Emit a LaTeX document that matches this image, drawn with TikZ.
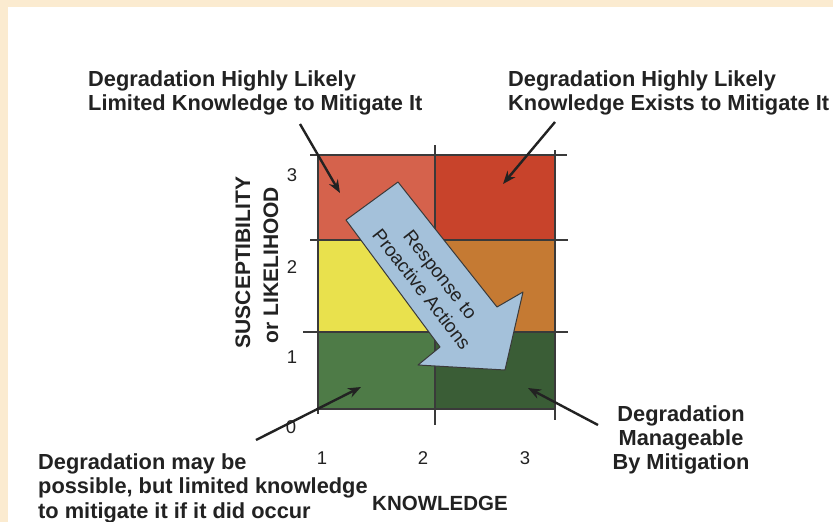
\documentclass[tikz,border=0pt]{standalone}
\usepackage{fontspec}
\setmainfont{Liberation Sans}
\usetikzlibrary{arrows.meta}
\definecolor{beige}{HTML}{FBEBD0}
\definecolor{cTL}{HTML}{D5624C}
\definecolor{cTR}{HTML}{C8432B}
\definecolor{cML}{HTML}{E9E14D}
\definecolor{cMR}{HTML}{C57A33}
\definecolor{cBL}{HTML}{4E7B47}
\definecolor{cBR}{HTML}{3A5D36}
\definecolor{arrfill}{HTML}{A4C1DA}
\definecolor{txt}{HTML}{222222}
\definecolor{gridc}{HTML}{3A3A3A}
\begin{document}
\begin{tikzpicture}[x=1pt,y=-1pt,
  lbl/.style={font=\fontsize{21.8}{23.8}\selectfont\bfseries, text=txt, inner sep=0pt},
  axl/.style={font=\fontsize{21}{21}\selectfont\bfseries, text=txt, inner sep=0pt, rotate=90, anchor=base},
  tck/.style={font=\fontsize{18.5}{18.5}\selectfont, text=txt, inner sep=0pt},
  gridl/.style={draw=gridc, line width=1.1pt},
  ptr/.style={draw=txt, line width=2.4pt, -{Stealth[length=13pt,width=10pt]}},
  bigarrow/.style={fill=arrfill, draw=gridc, line width=1pt, line join=round},
]
\useasboundingbox (0,0) rectangle (833,522);
\fill[beige] (0,0) rectangle (833,522);
\fill[white] (8,7) rectangle (833,522);
% cells
\fill[cTL] (318,155) rectangle (435,240);
\fill[cTR] (435,155) rectangle (555,240);
\fill[cML] (318,240) rectangle (435,332);
\fill[cMR] (435,240) rectangle (555,332);
\fill[cBL] (318,332) rectangle (435,409);
\fill[cBR] (435,332) rectangle (555,409);
% grid lines
\draw[gridl] (310,155) -- (567,155);
\draw[gridl] (310,240) -- (568,240);
\draw[gridl] (303,332) -- (568,332);
\draw[gridl] (317,409) -- (555,409);
\draw[gridl] (318,155) -- (318,414);
\draw[gridl] (435,145) -- (435,425);
\draw[gridl] (555,150) -- (555,420);
% big arrow
\draw[bigarrow] (346,220) -- (398,182) -- (497,307) -- (523,292) -- (505,370) -- (418,365) -- (440,347) -- cycle;
\node[font=\fontsize{19}{23.5}\selectfont, text=txt, inner sep=0pt, rotate=-52, align=center] (resp) at (431,282) {Response to\\Proactive Actions};
% labels
\node[lbl, anchor=north west, align=left] (tl) at (88,71) {Degradation Highly Likely\\Limited Knowledge to Mitigate It};
\node[lbl, anchor=north west, align=left] (tr) at (508,71) {Degradation Highly Likely\\Knowledge Exists to Mitigate It};
\node[lbl, anchor=north west, align=left, font=\fontsize{21.8}{24.5}\selectfont\bfseries] (bl) at (38,453) {Degradation may be\\possible, but limited knowledge\\to mitigate it if it did occur};
\node[lbl, anchor=north, align=center, font=\fontsize{21.8}{24}\selectfont\bfseries] (br) at (681,405) {Degradation\\Manageable\\By Mitigation};
% axes
\node[axl] (ys) at (250,262.5) {SUSCEPTIBILITY};
\node[axl] (yl) at (278,265) {or LIKELIHOOD};
\node[lbl, anchor=base, font=\fontsize{20.5}{20.5}\selectfont\bfseries] (xk) at (440,510) {KNOWLEDGE};
\node[tck] (y3) at (292,175) {3};
\node[tck] (y2) at (292,267) {2};
\node[tck] (y1) at (292,357) {1};
\node[tck] (y0) at (291,427) {0};
\node[tck] (x1) at (322,458) {1};
\node[tck] (x2) at (423,458) {2};
\node[tck] (x3) at (525,458) {3};
% connectors
\coordinate (a1s) at (300,124);
\coordinate (a1e) at (340,193);
\coordinate (a2s) at (555,122);
\coordinate (a2e) at (503,184);
\coordinate (a3s) at (256,440);
\coordinate (a3e) at (361,387);
\coordinate (a4s) at (598,425);
\coordinate (a4e) at (528,388);
\draw[ptr] (a1s) -- (a1e);
\draw[ptr] (a2s) -- (a2e);
\draw[ptr] (a3s) -- (a3e);
\draw[ptr] (a4s) -- (a4e);
\end{tikzpicture}
\end{document}
